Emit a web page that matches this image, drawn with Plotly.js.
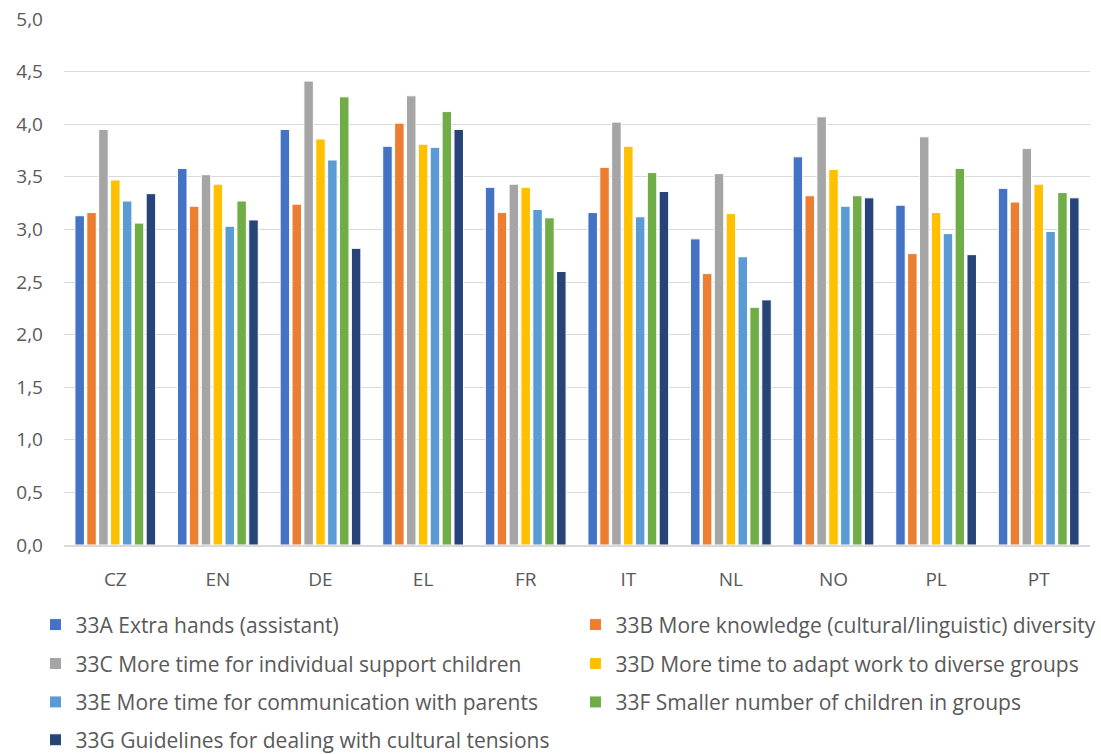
<!DOCTYPE html>
<html>
<head>
<meta charset="utf-8">
<script src="https://cdn.plot.ly/plotly-3.0.1.min.js"></script>
<style>html,body{margin:0;padding:0;background:#fff;}#chart{width:1101px;height:754px;}</style>
</head>
<body>
<div id="chart"></div>
<script>
const countries = ['CZ', 'EN', 'DE', 'EL', 'FR', 'IT', 'NL', 'NO', 'PL', 'PT'];

const seriesNames = [
  '33A Extra hands (assistant)',
  '33B More knowledge (cultural/linguistic) diversity',
  '33C More time for individual support children',
  '33D More time to adapt work to diverse groups',
  '33E More time for communication with parents',
  '33F Smaller number of children in groups',
  '33G Guidelines for dealing with cultural tensions'
];

const extraHands      = [3.13, 3.58, 3.95, 3.79, 3.40, 3.16, 2.91, 3.69, 3.23, 3.39];
const moreKnowledge   = [3.16, 3.22, 3.24, 4.01, 3.16, 3.59, 2.58, 3.32, 2.77, 3.26];
const individualTime  = [3.95, 3.52, 4.41, 4.27, 3.43, 4.02, 3.53, 4.07, 3.88, 3.77];
const adaptTime       = [3.47, 3.43, 3.86, 3.81, 3.40, 3.79, 3.15, 3.57, 3.16, 3.43];
const parentsTime     = [3.27, 3.03, 3.66, 3.78, 3.19, 3.12, 2.74, 3.22, 2.96, 2.98];
const smallerGroups   = [3.06, 3.27, 4.26, 4.12, 3.11, 3.54, 2.26, 3.32, 3.58, 3.35];
const guidelines      = [3.34, 3.09, 2.82, 3.95, 2.60, 3.36, 2.33, 3.30, 2.76, 3.30];

const seriesValues = [extraHands, moreKnowledge, individualTime, adaptTime, parentsTime, smallerGroups, guidelines];
const seriesColors = ['#4472C4', '#ED7D31', '#A5A5A5', '#FFC000', '#5B9BD5', '#70AD47', '#264478'];

// Legend laid out as two columns, four rows below the axis: one legend box per entry.
const legendIds = ['legend', 'legend2', 'legend3', 'legend4', 'legend5', 'legend6', 'legend7'];
const legendColX = [-0.0278, 0.4985];
const legendRowY = [-0.152, -0.226, -0.299, -0.371];

const traces = seriesNames.map((name, i) => ({
  type: 'bar',
  name: name,
  x: countries,
  y: seriesValues[i],
  legend: legendIds[i],
  marker: { color: seriesColors[i], line: { color: '#ffffff', width: 1 } },
  hoverinfo: 'x+y+name'
}));

const layout = {
  width: 1101,
  height: 754,
  paper_bgcolor: '#ffffff',
  plot_bgcolor: '#ffffff',
  separators: ', ',
  font: { family: '"Open Sans", Lato, sans-serif', size: 20, color: '#595959' },
  margin: { l: 64, r: 11, t: 19, b: 209, autoexpand: false },
  barmode: 'group',
  bargap: 0.19,
  bargroupgap: 0.2,
  showlegend: true,
  xaxis: {
    type: 'category',
    showgrid: false,
    showline: true,
    linecolor: '#d9d9d9',
    linewidth: 1.5,
    ticks: '',
    tickfont: { size: 19, color: '#595959' },
    ticklabelstandoff: 17
  },
  yaxis: {
    range: [0, 5],
    dtick: 0.5,
    tick0: 0,
    tickformat: '.1f',
    showgrid: true,
    gridcolor: '#d9d9d9',
    gridwidth: 1,
    zeroline: false,
    showline: false,
    ticks: '',
    tickfont: { size: 19, color: '#595959' },
    ticklabelstandoff: 20
  }
};

legendIds.forEach((id, i) => {
  layout[id] = {
    orientation: 'h',
    x: legendColX[i % 2],
    xanchor: 'left',
    y: legendRowY[Math.floor(i / 2)],
    yanchor: 'middle',
    bgcolor: 'rgba(0,0,0,0)',
    borderwidth: 0,
    itemwidth: 30,
    font: { size: 21, color: '#595959' }
  };
});

Plotly.newPlot('chart', traces, layout, { displayModeBar: false, staticPlot: true });
</script>
</body>
</html>
